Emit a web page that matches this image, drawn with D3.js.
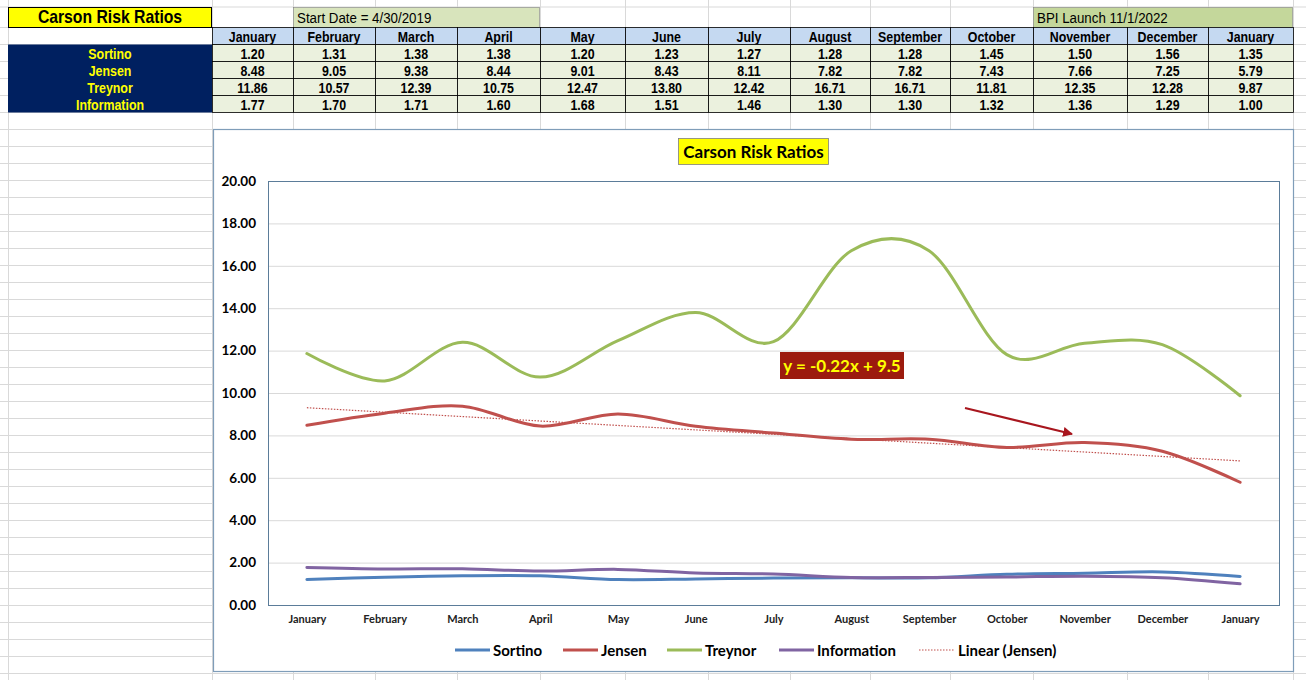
<!DOCTYPE html>
<script src="https://cdn.jsdelivr.net/npm/d3@7"></script>
<html>
<head>
<style>
  body { margin: 0; background: #fff; }
  svg { display: block; }
</style>
</head>
<body>
<div id="chart-div"></div>
<script>
// table + chart data
const months = ["January", "February", "March", "April", "May", "June", "July",
                "August", "September", "October", "November", "December", "January"];
const sortino = [1.20, 1.31, 1.38, 1.38, 1.20, 1.23, 1.27, 1.28, 1.28, 1.45, 1.50, 1.56, 1.35];
const jensen = [8.48, 9.05, 9.38, 8.44, 9.01, 8.43, 8.11, 7.82, 7.82, 7.43, 7.66, 7.25, 5.79];
const treynor = [11.86, 10.57, 12.39, 10.75, 12.47, 13.80, 12.42, 16.71, 16.71, 11.81, 12.35, 12.28, 9.87];
const information = [1.77, 1.70, 1.71, 1.60, 1.68, 1.51, 1.46, 1.30, 1.30, 1.32, 1.36, 1.29, 1.00];
const seriesNames = ["Sortino", "Jensen", "Treynor", "Information"];
const seriesColors = ["#4f81bd", "#c0504d", "#9bbb59", "#8064a2"];
const yTicks = [0, 2, 4, 6, 8, 10, 12, 14, 16, 18, 20];
const trendLabel = "y = -0.22x + 9.5";

const W = 1306, H = 680;
const svg = d3.select("#chart-div").append("svg")
    .attr("width", W).attr("height", H);

// spreadsheet grid
const colEdges = [8, 212, 293, 375, 457, 540, 625, 708, 790, 870, 950, 1033, 1127, 1208, 1293];
const rowEdges = [7, 27.5];
for (let y = 44.5; y < H + 17; y += 17) rowEdges.push(y);

const grid = svg.append("g").attr("stroke", "#d9d9d9").attr("stroke-width", 1);
rowEdges.forEach(y => grid.append("line").attr("x1", 0).attr("x2", W).attr("y1", y).attr("y2", y));
colEdges.concat([1306]).forEach(x => grid.append("line").attr("x1", x + 0.5).attr("x2", x + 0.5).attr("y1", 0).attr("y2", H));

const cellFont = "'Liberation Sans', Arial, sans-serif";

// narrow-looking cell text (Arial Narrow style)
function cellText(cx, cy, str, opts = {}) {
  return svg.append("text")
      .attr("transform", `translate(${cx},${cy}) scale(${opts.sx || 0.8},1)`)
      .attr("text-anchor", opts.anchor || "middle")
      .attr("font-family", cellFont)
      .attr("font-weight", opts.weight || "bold")
      .attr("font-size", opts.size || 15.5)
      .attr("fill", opts.fill || "#000")
      .text(str);
}

// title cell
svg.append("rect").attr("x", 8.5).attr("y", 7.5).attr("width", 203).attr("height", 20)
    .attr("fill", "#ffff00").attr("stroke", "#000");
cellText(110, 23, "Carson Risk Ratios", { size: 17.5, sx: 0.9 });

// start date / BPI launch notes
svg.append("rect").attr("x", 293.5).attr("y", 7.5).attr("width", 246).attr("height", 20)
    .attr("fill", "#d8e4bc").attr("stroke", "#7f7f7f").attr("stroke-width", 0.6);
cellText(297, 23, "Start Date = 4/30/2019", { anchor: "start", weight: "normal", size: 15.5, sx: 0.86 });
svg.append("rect").attr("x", 1033.5).attr("y", 7.5).attr("width", 259).attr("height", 20)
    .attr("fill", "#c4d79b").attr("stroke", "#7f7f7f").attr("stroke-width", 0.6);
cellText(1037, 23, "BPI Launch 11/1/2022", { anchor: "start", weight: "normal", size: 15.5, sx: 0.86 });

// header row
months.forEach((m, i) => {
  const x0 = colEdges[i + 1], x1 = colEdges[i + 2];
  svg.append("rect").attr("x", x0 + 0.5).attr("y", 27.5).attr("width", x1 - x0).attr("height", 17)
      .attr("fill", "#c5d9f1").attr("stroke", "#000").attr("stroke-width", 0.8);
  cellText((x0 + x1) / 2, 42, m);
});

// data rows
const tableRows = [sortino, jensen, treynor, information];
svg.append("rect").attr("x", 8).attr("y", 44.5).attr("width", 204).attr("height", 68)
    .attr("fill", "#002060");
tableRows.forEach((vals, r) => {
  const y0 = 44.5 + r * 17;
  cellText(110, y0 + 14, seriesNames[r], { fill: "#ffff00" });
  vals.forEach((v, i) => {
    const x0 = colEdges[i + 1], x1 = colEdges[i + 2];
    svg.append("rect").attr("x", x0 + 0.5).attr("y", y0).attr("width", x1 - x0).attr("height", 17)
        .attr("fill", "#ebf1de").attr("stroke", "#000").attr("stroke-width", 0.8);
    cellText((x0 + x1) / 2, y0 + 14, v.toFixed(2));
  });
});

// chart object
const chartFont = "Lato, 'Open Sans', sans-serif";
svg.append("rect").attr("x", 213.5).attr("y", 129.5).attr("width", 1080).attr("height", 542)
    .attr("fill", "#fff").attr("stroke", "#7f9db9").attr("stroke-width", 1.2);

const plot = { left: 268, right: 1279, top: 181, bottom: 605 };

const x = d3.scalePoint().domain(d3.range(months.length))
    .range([plot.left, plot.right]).padding(0.5);
const y = d3.scaleLinear().domain([0, 20]).range([plot.bottom, plot.top]);

// gridlines
svg.append("g").selectAll("line").data(yTicks.slice(1)).join("line")
    .attr("x1", plot.left).attr("x2", plot.right)
    .attr("y1", d => y(d) + 0.5).attr("y2", d => y(d) + 0.5)
    .attr("stroke", "#d9d9d9");

// y axis
const yAxis = svg.append("g").attr("transform", `translate(${plot.left},0)`)
    .call(d3.axisLeft(y).tickValues(yTicks).tickSize(0).tickPadding(12).tickFormat(d3.format(".2f")));
yAxis.select(".domain").remove();
yAxis.selectAll("text").attr("font-family", chartFont).attr("font-weight", "bold")
    .attr("font-size", 13.5).attr("fill", "#000");

// x axis
const xAxis = svg.append("g").attr("transform", `translate(0,${plot.bottom})`)
    .call(d3.axisBottom(x).tickSize(0).tickPadding(10).tickFormat(i => months[i]));
xAxis.select(".domain").remove();
xAxis.selectAll("text").attr("font-family", chartFont).attr("font-weight", "bold")
    .attr("font-size", 11).attr("fill", "#222");

// plot area border
svg.append("rect").attr("x", plot.left + 0.5).attr("y", plot.top + 0.5)
    .attr("width", plot.right - plot.left).attr("height", plot.bottom - plot.top)
    .attr("fill", "none").attr("stroke", "#5b7c99").attr("stroke-width", 1);

// linear trend of Jensen (least squares, x = 1..n)
const n = jensen.length;
const xs = d3.range(1, n + 1);
const mx = d3.mean(xs), my = d3.mean(jensen);
const slope = d3.sum(xs, (v, i) => (v - mx) * (jensen[i] - my)) / d3.sum(xs, v => (v - mx) ** 2);
const intercept = my - slope * mx;

const line = d3.line().x((d, i) => x(i)).y(d => y(d)).curve(d3.curveCatmullRom.alpha(0));

const seriesData = [sortino, jensen, treynor, information];
seriesData.forEach((vals, s) => {
  svg.append("path").datum(vals).attr("d", line)
      .attr("fill", "none").attr("stroke", seriesColors[s]).attr("stroke-width", 3)
      .attr("stroke-linecap", "round");
});
svg.append("path").datum(xs.map(v => intercept + slope * v))
    .attr("d", d3.line().x((d, i) => x(i)).y(d => y(d)))
    .attr("fill", "none").attr("stroke", "#c0504d").attr("stroke-width", 1.2)
    .attr("stroke-dasharray", "1.5,1.5");

// trend equation label
svg.append("rect").attr("x", 780).attr("y", 352).attr("width", 124).attr("height", 27)
    .attr("fill", "#9c1b0e");
svg.append("text").attr("x", 842).attr("y", 372).attr("text-anchor", "middle")
    .attr("font-family", chartFont).attr("font-weight", "bold").attr("font-size", 17)
    .attr("fill", "#ffff00").text(trendLabel);

// arrow
svg.append("defs").append("marker").attr("id", "ah")
    .attr("viewBox", "0 0 10 10").attr("refX", 9).attr("refY", 5)
    .attr("markerWidth", 4.5).attr("markerHeight", 4.5).attr("orient", "auto")
    .append("path").attr("d", "M0,0 L10,5 L0,10 Z").attr("fill", "#a8161e");
svg.append("line").attr("x1", 965).attr("y1", 408).attr("x2", 1072).attr("y2", 434)
    .attr("stroke", "#a8161e").attr("stroke-width", 2.2).attr("marker-end", "url(#ah)");

// chart title
svg.append("rect").attr("x", 678.5).attr("y", 138.5).attr("width", 150).attr("height", 26)
    .attr("fill", "#ffff00").attr("stroke", "#7f7f7f").attr("stroke-width", 0.8);
svg.append("text").attr("x", 753.5).attr("y", 158).attr("text-anchor", "middle")
    .attr("font-family", chartFont).attr("font-weight", "bold").attr("font-size", 17)
    .text("Carson Risk Ratios");

// legend
const legendItems = seriesNames.map((name, i) => ({ name, color: seriesColors[i], dash: null }))
    .concat([{ name: "Linear (Jensen)", color: "#c0504d", dash: "1.5,1.5" }]);
const legendX = [455, 563, 667, 779, 919];
const legend = svg.append("g");
legendItems.forEach((d, i) => {
  const g = legend.append("g").attr("transform", `translate(${legendX[i]},650)`);
  g.append("line").attr("x1", 0).attr("x2", 35).attr("y1", 0).attr("y2", 0)
      .attr("stroke", d.color).attr("stroke-width", d.dash ? 1.2 : 3)
      .attr("stroke-dasharray", d.dash);
  g.append("text").attr("x", d.dash ? 39 : 38).attr("y", 5.5).attr("font-family", chartFont)
      .attr("font-weight", "bold").attr("font-size", 15).text(d.name);
});
</script>
</body>
</html>
